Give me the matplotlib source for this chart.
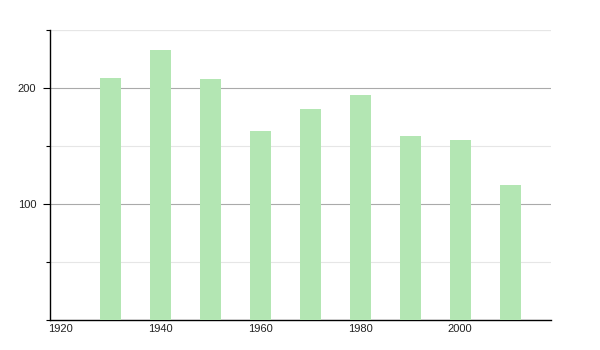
import matplotlib.pyplot as plt
from matplotlib.ticker import MultipleLocator

years = [1930, 1940, 1950, 1960, 1970, 1980, 1990, 2000, 2010]
population = [209, 233, 208, 163, 182, 194, 159, 155, 116]
xticks = [1920, 1940, 1960, 1980, 2000]

plt.rcParams['font.family'] = ['Liberation Sans', 'DejaVu Sans']

fig = plt.figure(figsize=(6, 3.5), dpi=100)
ax = fig.add_axes([50 / 600, 30 / 350, 501 / 600, 290 / 350])

ax.bar(years, population, width=4.2, color='#b3e6b3', zorder=3)

ax.set_xlim(1918, 2018.2)
ax.set_ylim(0, 250)
ax.set_xticks(xticks)
ax.set_xticklabels([str(x) for x in xticks])
ax.set_yticks([100, 200])
ax.yaxis.set_minor_locator(MultipleLocator(50))

ax.grid(axis='y', which='major', color='#aaaaaa', linewidth=0.8, zorder=1)
ax.grid(axis='y', which='minor', color='#e6e6e6', linewidth=0.8, zorder=1)
ax.axhline(250, color='#e6e6e6', linewidth=0.8, zorder=1)

for s in ['top', 'right']:
    ax.spines[s].set_visible(False)
ax.spines['left'].set_linewidth(1.0)
ax.spines['bottom'].set_linewidth(1.0)

ax.tick_params(axis='x', length=0, pad=3, labelsize=8, labelcolor='#222222')
ax.tick_params(axis='y', which='major', length=5, width=0.8, pad=5, labelsize=8, labelcolor='#222222')
ax.tick_params(axis='y', which='minor', length=3, width=0.8)

fig.savefig('out.png', dpi=100)
